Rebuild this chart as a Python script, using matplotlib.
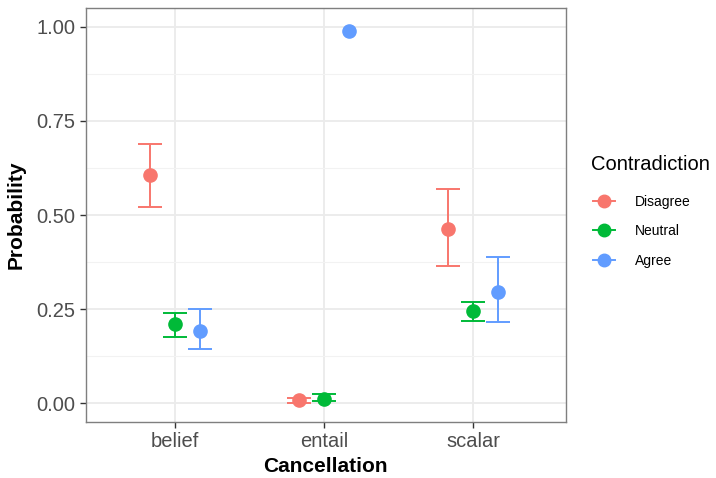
import numpy as np
import matplotlib
matplotlib.use("Agg")
import matplotlib.pyplot as plt
from matplotlib.lines import Line2D

plt.rcParams["font.family"] = ["Liberation Sans", "DejaVu Sans"]

# data
categories = ["belief", "entail", "scalar"]
groups = ["Disagree", "Neutral", "Agree"]
colors = ["#F8766D", "#00BA38", "#619CFF"]

prob_disagree = [0.606, 0.007, 0.464]
low_disagree = [0.520, 0.000, 0.364]
high_disagree = [0.690, 0.014, 0.569]

prob_neutral = [0.209, 0.012, 0.246]
low_neutral = [0.175, 0.005, 0.218]
high_neutral = [0.240, 0.025, 0.269]

prob_agree = [0.191, 0.988, 0.294]
low_agree = [0.143, 0.988, 0.215]
high_agree = [0.251, 0.988, 0.388]

probs = [prob_disagree, prob_neutral, prob_agree]
lows = [low_disagree, low_neutral, low_agree]
highs = [high_disagree, high_neutral, high_agree]

fig = plt.figure(figsize=(7.16, 4.78), dpi=100)
ax = fig.add_axes([0.120, 0.117, 0.670, 0.866])

x = np.arange(1, len(categories) + 1)
offsets = [-1 / 6, 0, 1 / 6]

for g, col, p, lo, hi, off in zip(groups, colors, probs, lows, highs, offsets):
    p = np.array(p)
    lo = np.array(lo)
    hi = np.array(hi)
    has = hi > lo  # no bar drawn when interval collapses
    err = np.vstack([p - lo, hi - p])[:, has]
    ax.errorbar((x + off)[has], p[has], yerr=err, fmt="none", ecolor=col,
                elinewidth=1.4, capsize=8.6, capthick=1.4, zorder=3)
    ax.plot(x + off, p, "o", color=col, ms=9.5, zorder=4)

ax.set_xlim(0.4, 3.62)
ax.set_ylim(-0.0505, 1.05)
ax.set_xticks(x)
ax.set_xticklabels(categories)
ax.set_yticks([0, 0.25, 0.5, 0.75, 1.0])
ax.set_yticklabels(["0.00", "0.25", "0.50", "0.75", "1.00"])
ax.set_yticks([0.125, 0.375, 0.625, 0.875], minor=True)

ax.grid(True, which="major", color="#EBEBEB", lw=1.3, zorder=0)
ax.grid(True, which="minor", axis="y", color="#F2F2F2", lw=0.8, zorder=0)
ax.set_axisbelow(True)
for s in ax.spines.values():
    s.set_color("#7F7F7F")
    s.set_linewidth(1.0)

ax.tick_params(axis="both", which="major", labelsize=14.5, labelcolor="#4D4D4D",
               color="#333333", length=4, width=1)
ax.tick_params(axis="y", which="minor", length=0)

ax.set_xlabel("Cancellation", fontsize=15, fontweight="bold", labelpad=4)
ax.set_ylabel("Probability", fontsize=15, fontweight="bold", labelpad=8)

# legend: title as separate text for exact placement
fig.text(591 / 716, 1 - 165 / 478, "Contradiction", fontsize=14.5,
         ha="left", va="center")
handles = [Line2D([0], [0], color=c, marker="o", ms=9, lw=1.4) for c in colors]
leg = fig.legend(handles, groups, loc="upper left",
                 bbox_to_anchor=(593 / 716, 1 - 195 / 478), frameon=False,
                 fontsize=10, handlelength=1.6, labelspacing=1.1,
                 handletextpad=1.4, borderaxespad=0, borderpad=0)

fig.savefig("out.png", dpi=100)
